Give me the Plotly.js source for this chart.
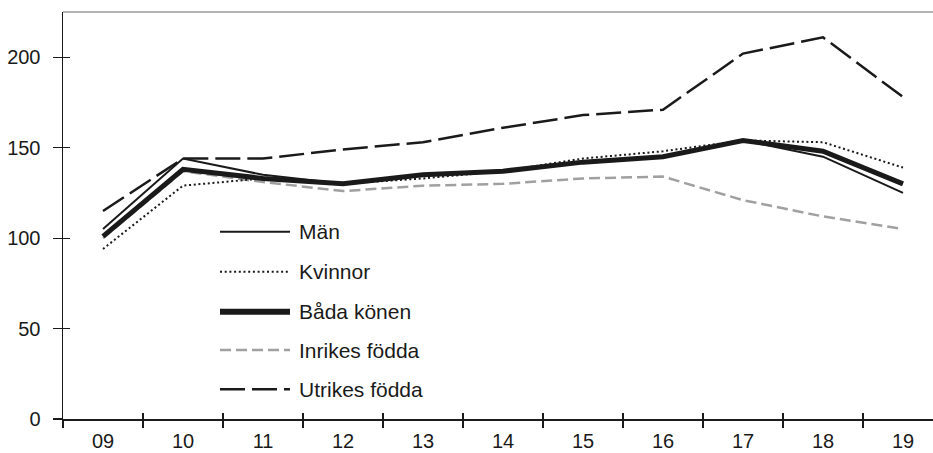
<!DOCTYPE html>
<html>
<head>
<meta charset="utf-8">
<script src="https://cdn.plot.ly/plotly-3.0.1.min.js"></script>
<style>
  html, body { margin: 0; padding: 0; background: #fff; }
  #chart { width: 933px; height: 453px; }
</style>
</head>
<body>
<div id="chart"></div>
<script>
// ---- data ----
const years = ['09','10','11','12','13','14','15','16','17','18','19'];
const man      = [105, 144, 135, 130, 135, 137, 142, 145, 154, 145, 125];
const kvinnor  = [ 94, 129, 133, 130, 133, 137, 144, 148, 154, 153, 139];
const bada     = [101, 138, 133, 130, 135, 137, 142, 145, 154, 148, 130];
const inrikes  = [100, 137, 131, 126, 129, 130, 133, 134, 121, 112, 105];
const utrikes  = [115, 144, 144, 149, 153, 161, 168, 171, 202, 211, 178];
const seriesNames = ['Män', 'Kvinnor', 'Båda könen', 'Inrikes födda', 'Utrikes födda'];
const yTicks = [0, 50, 100, 150, 200];

// ---- styles ----
const styles = [
  {color: '#1a1a1a', width: 2,   dash: 'solid'},
  {color: '#1a1a1a', width: 2,   dash: '2px,2.7px'},
  {color: '#1a1a1a', width: 5,   dash: 'solid'},
  {color: '#a0a0a0', width: 2.5, dash: '11px,5px'},
  {color: '#1a1a1a', width: 2.5, dash: '25px,7px'}
];
const values = [man, kvinnor, bada, inrikes, utrikes];
const order = [3, 4, 1, 0, 2]; // draw thick line last

const traces = order.map(i => ({
  type: 'scatter', mode: 'lines', x: years, y: values[i], name: seriesNames[i],
  line: {color: styles[i].color, width: styles[i].width, dash: styles[i].dash},
  showlegend: false, hoverinfo: 'skip'
}));
// empty trace so the overlay axes (inside tick marks) are drawn
traces.push({type: 'scatter', mode: 'lines', x: [], y: [], xaxis: 'x2', yaxis: 'y2',
  showlegend: false, hoverinfo: 'skip'});

// plot geometry (pixels)
const W = 933, H = 453, L = 63, T = 12, B = 34, R = 0;
const pw = W - L - R, ph = H - T - B;
const xRange = [-0.5, 10.375];
const yRange = [0, 225];

// custom legend (line samples + labels)
const legRows = [231.7, 271.7, 311.7, 350, 389.3];
const legX0 = 220, legX1 = 290, legText = 297;
const px2x = p => (p - L) / pw;
const py2y = p => (H - B - p) / ph;
const shapes = [
  {type: 'line', xref: 'paper', yref: 'paper', x0: 0, x1: 1, y0: 1, y1: 1,
   line: {color: '#9a9a9a', width: 1.5}}
];
const annotations = [];
seriesNames.forEach((n, i) => {
  shapes.push({type: 'line', xref: 'paper', yref: 'paper',
    x0: px2x(legX0), x1: px2x(legX1), y0: py2y(legRows[i]), y1: py2y(legRows[i]),
    line: {color: styles[i].color, width: styles[i].width === 5 ? 6 : styles[i].width, dash: styles[i].dash}});
  annotations.push({xref: 'paper', yref: 'paper', x: px2x(legText), y: py2y(legRows[i]),
    xanchor: 'left', yanchor: 'middle', showarrow: false, text: n,
    font: {family: 'Liberation Sans, Arial, sans-serif', size: 21, color: '#1a1a1a'}});
});

const font = {family: 'Liberation Sans, Arial, sans-serif', size: 20, color: '#1a1a1a'};
const boundaries = [];
for (let i = 0; i < years.length; i++) boundaries.push(i - 0.5);

const layout = {
  width: W, height: H,
  margin: {l: L, r: R, t: T, b: B, pad: 0},
  paper_bgcolor: '#fff', plot_bgcolor: '#fff',
  font: font,
  showlegend: false,
  xaxis: {
    type: 'category', range: xRange, tickson: 'boundaries',
    ticks: 'outside', ticklen: 7, tickwidth: 1.2, tickcolor: '#1a1a1a',
    showline: true, linecolor: '#1a1a1a', linewidth: 1.5,
    showgrid: false, zeroline: false, tickfont: font, ticklabelstandoff: 3,
    fixedrange: true
  },
  yaxis: {
    range: yRange, tickmode: 'array', tickvals: yTicks,
    ticks: 'outside', ticklen: 9, tickwidth: 1.2, tickcolor: '#1a1a1a',
    showline: true, linecolor: '#1a1a1a', linewidth: 1.5,
    showgrid: false, zeroline: false, tickfont: font, ticklabelstandoff: 8,
    fixedrange: true
  },
  xaxis2: {
    overlaying: 'x', anchor: 'y2', range: xRange, tickmode: 'array', tickvals: boundaries,
    ticks: 'inside', ticklen: 6, tickwidth: 1.2, tickcolor: '#1a1a1a',
    showticklabels: false, showline: false, showgrid: false, zeroline: false, fixedrange: true
  },
  yaxis2: {
    overlaying: 'y', anchor: 'x2', range: yRange, tickmode: 'array', tickvals: yTicks,
    ticks: 'inside', ticklen: 7, tickwidth: 1.2, tickcolor: '#1a1a1a',
    showticklabels: false, showline: false, showgrid: false, zeroline: false, fixedrange: true
  },
  shapes: shapes,
  annotations: annotations
};

Plotly.newPlot('chart', traces, layout, {displayModeBar: false, staticPlot: true});
</script>
</body>
</html>
